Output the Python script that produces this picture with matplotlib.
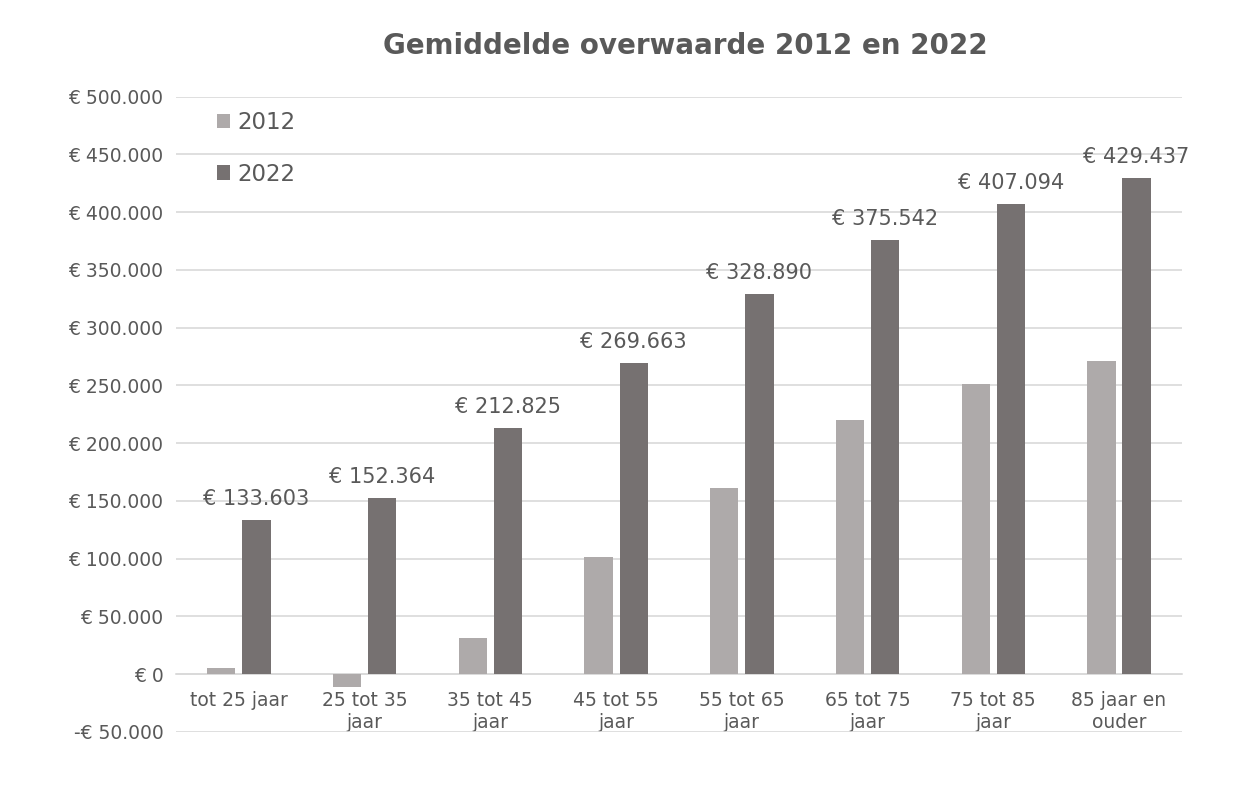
import numpy as np
import matplotlib
matplotlib.use('Agg')
import matplotlib.pyplot as plt
from matplotlib.ticker import FuncFormatter

# data
categories = ['tot 25 jaar', '25 tot 35\njaar', '35 tot 45\njaar', '45 tot 55\njaar',
              '55 tot 65\njaar', '65 tot 75\njaar', '75 tot 85\njaar', '85 jaar en\nouder']
values_2012 = [5200, -11300, 31200, 101400, 161200, 220000, 251300, 271200]
values_2022 = [133603, 152364, 212825, 269663, 328890, 375542, 407094, 429437]

text_col = '#595959'
grid_col = '#D9D9D9'
col_2012 = '#AEAAAA'
col_2022 = '#767171'


def euro(v):
	# dutch style thousands separator
	s = '{:,.0f}'.format(abs(v)).replace(',', '.')
	return ('-€ ' if v < 0 else '€ ') + s


def main():
	plt.rcParams['font.family'] = ['DejaVu Sans']
	fig = plt.figure(figsize=(12.48, 7.93), dpi=100)
	ax = fig.add_axes([0.141, 0.077, 0.806, 0.801])

	x = np.arange(len(categories))
	w = 0.225
	ax.bar(x - 0.14, values_2012, w, color=col_2012, label='2012', zorder=3)
	bars = ax.bar(x + 0.14, values_2022, w, color=col_2022, label='2022', zorder=3)

	for b, v in zip(bars, values_2022):
		ax.annotate(euro(v), (b.get_x() + b.get_width() / 2, v), xytext=(0, 8),
			textcoords='offset points', ha='center', va='bottom',
			fontsize=15, color=text_col)

	ax.set_xlim(-0.5, len(categories) - 0.5)
	ax.set_ylim(-50000, 500000)
	ax.set_yticks(np.arange(-50000, 500001, 50000))
	ax.yaxis.set_major_formatter(FuncFormatter(lambda v, p: euro(v)))
	ax.yaxis.grid(True, color=grid_col, linewidth=1.2, zorder=0)
	ax.tick_params(axis='y', length=0, pad=9, labelsize=13.5, labelcolor=text_col)

	ax.set_xticks(x)
	ax.set_xticklabels(categories, linespacing=1.1)
	ax.tick_params(axis='x', length=0, pad=12, labelsize=13.5, labelcolor=text_col)

	for s in ['top', 'right', 'left']:
		ax.spines[s].set_visible(False)
	ax.spines['bottom'].set_position(('data', 0))
	ax.spines['bottom'].set_color(grid_col)
	ax.spines['bottom'].set_linewidth(1.2)

	ax.set_title('Gemiddelde overwaarde 2012 en 2022', fontsize=20, fontweight='bold',
		color=text_col, pad=31, x=0.506)

	ax.legend(loc='upper left', bbox_to_anchor=(0.02, 1.01), frameon=False,
		fontsize=16.5, labelspacing=1.25, handlelength=0.6, handleheight=0.6,
		handletextpad=0.3, labelcolor=text_col)

	fig.savefig('out.png', dpi=100, facecolor='white')


if __name__ == '__main__':
	main()
